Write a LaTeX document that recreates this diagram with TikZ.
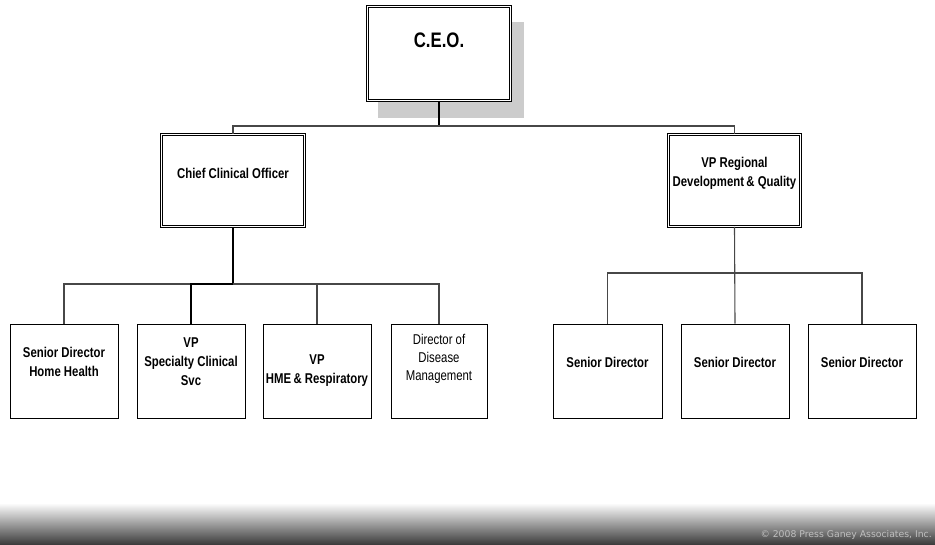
\documentclass[tikz,border=0pt]{standalone}
\usepackage{fontspec}
\setmainfont{Liberation Sans}[FakeStretch=0.8]
\newfontfamily\footfont{DejaVu Sans}
\begin{document}
\begin{tikzpicture}[x=1pt,y=-1pt,
  box/.style={draw=black,line width=0.8pt,fill=white,inner sep=0pt},
  dbox/.style={draw=black,line width=0.7pt,double=white,double distance=1.6pt,fill=white,inner sep=0pt},
  lbl/.style={align=center,font=\fontsize{14.2}{19}\selectfont\bfseries,inner sep=0pt},
  lblr/.style={align=center,font=\fontsize{14.2}{18}\selectfont,inner sep=0pt},
  conn/.style={draw=black!72,line width=1.1pt},
  connb/.style={draw=black,line width=1.1pt}]
\useasboundingbox (0,0) rectangle (935,544);
% footer gradient
\shade[top color=white,bottom color=black!76] (0,503) rectangle (935,544);
\node[anchor=east,text=black!25,font=\footfont\fontsize{9.3}{11}\selectfont,inner sep=0pt] (foot) at (932,535) {© 2008 Press Ganey Associates, Inc.};
% CEO shadow and box
\fill[black!20] (378,22) rectangle (524,118);
\node[dbox,minimum width=143pt,minimum height=94pt] (ceo) at (439,53.5) {};
\node[font=\fontsize{21}{24}\selectfont\bfseries,inner sep=0pt] (ceot) at (439,40) {C.E.O.};
% second level
\node[dbox,minimum width=143pt,minimum height=92pt] (cco) at (233,180.5) {};
\node[lbl] (ccot) at (233,173) {Chief Clinical Officer};
\node[dbox,minimum width=132pt,minimum height=92pt] (vpr) at (734.5,180.5) {};
\node[lbl] (vprt) at (734.5,173) {VP Regional\\Development\,\& Quality};
% third level left
\node[box,minimum width=108pt,minimum height=94pt] (b1) at (64,371) {};
\node[lbl] (b1t) at (64,362) {Senior Director\\Home Health};
\node[box,minimum width=108pt,minimum height=94pt] (b2) at (191,371) {};
\node[lbl] (b2t) at (191,361.5) {VP\\Specialty Clinical\\Svc};
\node[box,minimum width=108pt,minimum height=94pt] (b3) at (317,371) {};
\node[lbl] (b3t) at (317,371) {VP\\HME\,\& Respiratory};
\node[box,minimum width=96pt,minimum height=94pt] (b4) at (439,371) {};
\node[lblr] (b4t) at (439,359) {Director of\\Disease\\Management};
% third level right
\node[box,minimum width=109pt,minimum height=94pt] (b5) at (607.5,371) {};
\node[lbl] (b5t) at (607.5,362) {Senior Director};
\node[box,minimum width=108pt,minimum height=94pt] (b6) at (735,371) {};
\node[lbl] (b6t) at (735,362) {Senior Director};
\node[box,minimum width=108pt,minimum height=94pt] (b7) at (862,371) {};
\node[lbl] (b7t) at (862,362) {Senior Director};
% connectors
\coordinate (busTop) at (439,126);
\draw[connb] (ceo.south) -- (busTop);
\draw[conn] (ceo.south |- busTop) -| (cco.north);
\draw[conn] (ceo.south |- busTop) -| (vpr.north);
\coordinate (busL) at (233,284);
\draw[connb] (cco.south) -- (busL);
\draw[conn] (b1.north) |- (busL);
\draw[connb] (b2.north) |- (busL);
\draw[conn] (b3.north) |- (busL);
\draw[conn] (b4.north) |- (busL);
\coordinate (busR) at (735,273);
\draw[conn] (vpr.south) -- (b6.north);
\draw[conn] (b5.north) |- (busR);
\draw[conn] (b7.north) |- (busR);
\end{tikzpicture}
\end{document}
